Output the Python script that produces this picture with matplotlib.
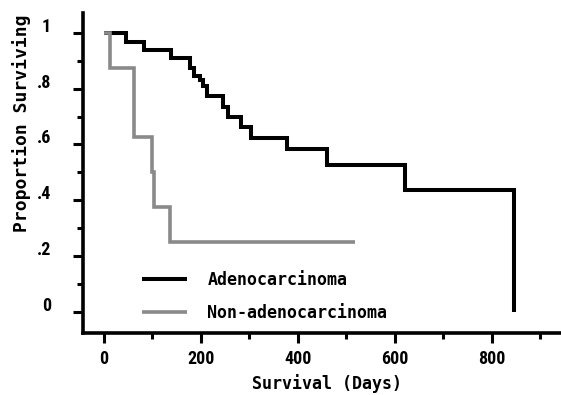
import matplotlib
matplotlib.use("Agg")
import matplotlib.pyplot as plt
from matplotlib.ticker import MultipleLocator
from matplotlib.transforms import ScaledTranslation
from matplotlib import font_manager

# Data
adeno_days = [0, 46, 84, 139, 178, 187, 199, 205, 213, 247, 257, 284, 304, 378, 460, 622, 846]
adeno_surv = [1.0, 0.969, 0.94, 0.91, 0.875, 0.845, 0.83, 0.81, 0.775, 0.735, 0.70, 0.663, 0.622, 0.585, 0.525, 0.437, 0.0]
nonadeno_days = [0, 13, 62, 99, 105, 137, 518]
nonadeno_surv = [1.0, 0.875, 0.625, 0.5, 0.375, 0.25, 0.25]

series_labels = ["Adenocarcinoma", "Non-adenocarcinoma"]
y_ticks = [0, 0.2, 0.4, 0.6, 0.8, 1.0]
y_tick_labels = ["0", ".2", ".4", ".6", ".8", "1"]
x_ticks = [0, 200, 400, 600, 800]
x_tick_labels = ["0", "200", "400", "600", "800"]

mono = ["DejaVu Sans Mono"]
available = {f.name for f in font_manager.fontManager.ttflist}
narrow_family = "DejaVu Sans"
for cand in ["Liberation Sans Narrow", "Roboto Condensed", "Open Sans Condensed", "DejaVu Sans Condensed"]:
    if cand in available:
        narrow_family = cand
        break

fig = plt.figure(figsize=(5.61, 3.95), dpi=100)
ax = fig.add_axes([83/561, 1 - 333/395, (561-83)/561, (333-13)/395])

ax.step(adeno_days, adeno_surv, where="post", color="black", lw=2.9,
        solid_joinstyle="miter", solid_capstyle="butt", label=series_labels[0], zorder=2)
ax.step(nonadeno_days, nonadeno_surv, where="post", color="#8a8a8a", lw=2.6,
        solid_joinstyle="miter", solid_capstyle="butt", label=series_labels[1], zorder=3)

ax.set_xlim(-42.3, 942.7)
ax.set_ylim(-0.077, 1.072)

for side in ["top", "right"]:
    ax.spines[side].set_visible(False)
for side in ["left", "bottom"]:
    ax.spines[side].set_linewidth(2.6)
    ax.spines[side].set_capstyle("projecting")

ax.set_yticks(y_ticks, y_tick_labels)
ax.set_xticks(x_ticks, x_tick_labels)
ax.yaxis.set_minor_locator(MultipleLocator(0.1))
ax.xaxis.set_minor_locator(MultipleLocator(100))

ax.tick_params(axis="both", which="major", length=7.5, width=2.2, direction="out")
ax.tick_params(axis="both", which="minor", length=4.3, width=2.2, direction="out")
ax.tick_params(axis="y", which="major", pad=15.5, labelsize=13)
ax.tick_params(axis="x", which="major", pad=4.5, labelsize=13)

for lab in ax.get_yticklabels() + ax.get_xticklabels():
    lab.set_fontfamily([narrow_family, "DejaVu Sans"])
    lab.set_fontstretch("condensed")
    lab.set_fontweight("bold")
offset = ScaledTranslation(0, 8/100, fig.dpi_scale_trans)
for lab in ax.get_yticklabels():
    lab.set_transform(lab.get_transform() + offset)

ax.set_xlabel("Survival (Days)", fontsize=12, family=mono, weight="bold", va="center")
ax.xaxis.set_label_coords(326.5/561, 1 - 384/395, transform=fig.transFigure)
ax.set_ylabel("Proportion Surviving", fontsize=13, family=mono, weight="bold", va="center")
ax.yaxis.set_label_coords(22/561, 1 - 123/395, transform=fig.transFigure)

ax.legend(loc="center left", bbox_to_anchor=(134/561, 1 - 296.5/395),
          bbox_transform=fig.transFigure, frameon=False, borderpad=0,
          handlelength=2.7, handletextpad=1.2, labelspacing=0.9,
          prop={"family": mono, "size": 12, "weight": "bold"})

fig.savefig("out.png", dpi=100)
